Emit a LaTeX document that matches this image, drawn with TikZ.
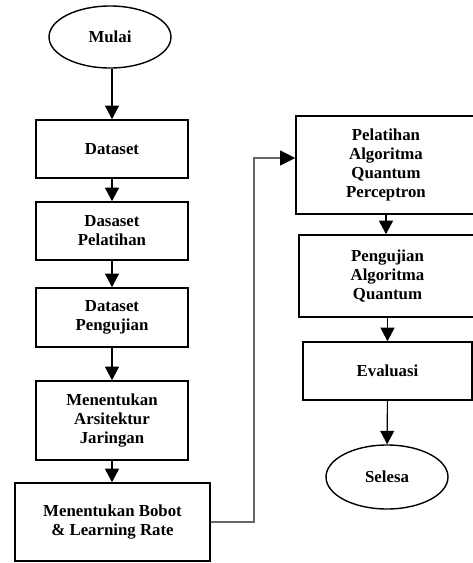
\documentclass[tikz,border=0pt]{standalone}
\usepackage{fontspec}
\setmainfont{Liberation Serif}
\usetikzlibrary{arrows.meta,shapes.geometric}
\tikzset{
  box/.style={draw, line width=1.6pt, rectangle, align=center, inner sep=0pt,
    font=\fontsize{16.8}{19}\selectfont\bfseries},
  term/.style={draw, line width=1.4pt, ellipse, align=center, inner sep=0pt,
    font=\fontsize{16.8}{19}\selectfont\bfseries},
  flow/.style={line width=1.1pt, -{Triangle[width=14pt,length=13.5pt]}},
  link/.style={line width=1.1pt, draw=black!60, -{Triangle[width=15pt,length=15pt,fill=black,color=black]}}
}
\begin{document}
\begin{tikzpicture}[x=1pt,y=-1pt]
\useasboundingbox (0,0) rectangle (473,563);
\clip (0,0) rectangle (473,563);
\node[term, minimum width=122pt, minimum height=62pt] (mulai) at (110,37) {Mulai};
\node[box, minimum width=152pt, minimum height=58pt] (ds) at (112,149) {Dataset};
\node[box, minimum width=152pt, minimum height=58pt] (dp) at (112,231) {Dasaset\\Pelatihan};
\node[box, minimum width=152pt, minimum height=59pt] (du) at (112,317.5) {Dataset\\Pengujian};
\node[box, minimum width=152pt, minimum height=79pt] (ar) at (112,420.5) {Menentukan\\Arsitektur\\Jaringan};
\node[box, minimum width=195pt, minimum height=78pt] (bb) at (112.5,522) {Menentukan Bobot\\\& Learning Rate};
\node[box, minimum width=180pt, minimum height=98pt] (pq) at (386,165) {Pelatihan\\Algoritma\\Quantum\\Perceptron};
\node[box, minimum width=177pt, minimum height=82pt] (pa) at (387.5,276) {Pengujian\\Algoritma\\Quantum};
\node[box, minimum width=169pt, minimum height=58pt] (ev) at (387.5,371) {Evaluasi};
\node[term, minimum width=122pt, minimum height=64pt] (sl) at (387,477) {Selesa};
\coordinate (c1) at (254,522);
\coordinate (c2) at (254,158);
\coordinate (c3) at (pq.west |- c2);
\draw[flow] (mulai.south -| ds.north) -- (ds.north);
\draw[flow] (ds) -- (dp);
\draw[flow] (dp) -- (du);
\draw[flow] (du) -- (ar);
\draw[flow] (ar.south) -- (ar.south |- bb.north);
\draw[link] (bb.east) -- (c1) -- (c2) -- (c3);
\draw[flow] (pq.south) -- (pq.south |- pa.north);
\draw[flow] (pa.south) -- (pa.south |- ev.north);
\draw[flow] (ev) -- (sl);
\end{tikzpicture}
\end{document}
